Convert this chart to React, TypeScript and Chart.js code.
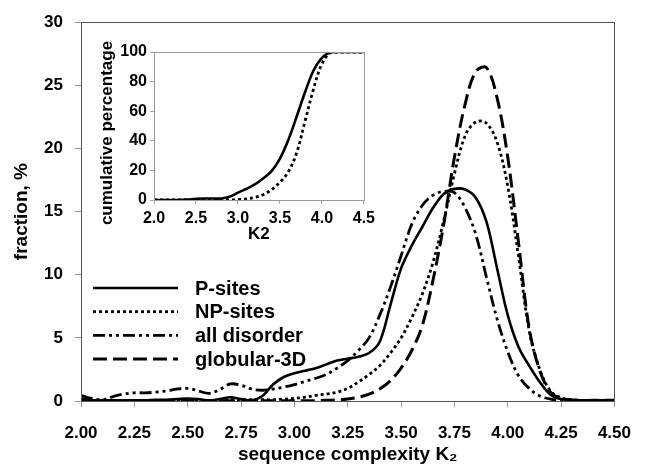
import React, { useEffect, useRef } from 'react';
import { Chart, registerables } from 'chart.js';

Chart.register(...registerables);

const FONT = '"Liberation Sans", Arial, sans-serif';

// ---------- main chart data ----------
const K2 = [
  2.0, 2.05, 2.1, 2.15, 2.2, 2.25, 2.3, 2.35, 2.4, 2.45,
  2.5, 2.55, 2.6, 2.65, 2.7, 2.75, 2.8, 2.85, 2.9, 2.95,
  3.0, 3.05, 3.1, 3.15, 3.2, 3.25, 3.3, 3.35, 3.4, 3.45,
  3.5, 3.55, 3.6, 3.65, 3.7, 3.75, 3.8, 3.85, 3.9, 3.95,
  4.0, 4.05, 4.1, 4.15, 4.2, 4.25, 4.3, 4.35, 4.4, 4.45, 4.5,
];

const P_SITES = [
  0.1, 0.05, 0.05, 0.05, 0.05, 0.05, 0.05, 0.1, 0.1, 0.15,
  0.2, 0.15, 0.05, 0.15, 0.3, 0.15, 0.05, 0.4, 1.3, 1.9,
  2.2, 2.4, 2.6, 2.9, 3.2, 3.35, 3.5, 3.8, 4.7, 7.6,
  10.5, 12.3, 13.8, 15.3, 16.4, 16.8, 16.75, 16.1, 14.2, 10.5,
  6.8, 4.3, 2.8, 1.5, 0.5, 0.15, 0.08, 0.05, 0.05, 0.05, 0.05,
];

const NP_SITES = [
  0.1, 0.05, 0.05, 0.05, 0.05, 0.05, 0.05, 0.05, 0.05, 0.05,
  0.05, 0.05, 0.05, 0.05, 0.1, 0.1, 0.1, 0.1, 0.1, 0.15,
  0.2, 0.3, 0.45, 0.55, 0.7, 1.0, 1.5, 2.1, 2.8, 3.8,
  5.0, 6.6, 8.5, 11.0, 14.3, 18.0, 21.0, 22.1, 22.0, 20.5,
  17.0, 11.5, 5.6, 2.5, 0.8, 0.25, 0.1, 0.05, 0.05, 0.05, 0.05,
];

const ALL_DISORDER = [
  0.45, 0.2, 0.1, 0.35, 0.55, 0.65, 0.65, 0.7, 0.8, 0.95,
  1.0, 0.8, 0.6, 0.9, 1.35, 1.25, 0.95, 0.85, 0.95, 1.1,
  1.3, 1.55, 1.8, 2.1, 2.6, 3.2, 4.0, 5.0, 6.8, 9.0,
  11.5, 14.0, 15.5, 16.3, 16.6, 16.5, 15.3, 13.2, 9.8, 6.5,
  3.9, 2.0, 1.0, 0.4, 0.15, 0.05, 0.05, 0.05, 0.05, 0.05, 0.05,
];

const GLOBULAR_3D = [
  0.2, 0.05, 0.02, 0.02, 0.02, 0.02, 0.02, 0.02, 0.02, 0.02,
  0.02, 0.02, 0.02, 0.02, 0.02, 0.02, 0.02, 0.02, 0.02, 0.02,
  0.02, 0.02, 0.02, 0.05, 0.08, 0.15, 0.3, 0.55, 0.95, 1.6,
  2.6, 4.0, 6.0, 9.6, 14.0, 19.3, 23.5, 26.1, 26.4, 24.0,
  19.3, 12.6, 5.8, 2.4, 0.7, 0.2, 0.08, 0.05, 0.05, 0.05, 0.05,
];

const SERIES_LABELS = ['P-sites', 'NP-sites', 'all disorder', 'globular-3D'];
const X_TICKS = [2.0, 2.25, 2.5, 2.75, 3.0, 3.25, 3.5, 3.75, 4.0, 4.25, 4.5];
const Y_TICKS = [0, 5, 10, 15, 20, 25, 30];

// ---------- inset data ----------
const CUM_K2 = [
  2.0, 2.1, 2.2, 2.3, 2.4, 2.5, 2.6, 2.7, 2.8, 2.9,
  3.0, 3.1, 3.2, 3.3, 3.4, 3.5, 3.6, 3.7, 3.8, 3.9,
  4.0, 4.1, 4.2, 4.3, 4.4, 4.5,
];
const CUM_P = [
  0, 0, 0, 0, 0.3, 0.8, 1, 1, 1, 2.2,
  5, 7.5, 10.5, 14.5, 19.5, 28, 40.5, 56.5, 73, 87.5,
  96, 99.8, 100, 100, 100, 100,
];
const CUM_NP = [
  0, 0, 0, 0, 0, 0, 0, 0, 0, 0,
  0.3, 0.8, 1.8, 3.5, 7, 12, 19, 32, 53.5, 75,
  92, 99.5, 100, 100, 100, 100,
];
const INSET_X_TICKS = [2.0, 2.5, 3.0, 3.5, 4.0, 4.5];
const INSET_Y_TICKS = [0, 20, 40, 60, 80, 100];

const SOLID: number[] = [];
const DOTTED = [3, 3];
const DASH_DOT_DOT = [12, 4, 3, 4, 3, 4];
const DASHED = [14, 6];

const toPoints = (xs: number[], ys: number[]) => xs.map((x, i) => ({ x, y: ys[i] }));

const framePlugin = (color: string) => ({
  id: 'frame',
  afterDatasetsDraw(chart: any) {
    const { ctx, chartArea } = chart;
    ctx.save();
    ctx.strokeStyle = color;
    ctx.lineWidth = 1;
    ctx.setLineDash([]);
    ctx.strokeRect(
      Math.round(chartArea.left) + 0.5,
      Math.round(chartArea.top) + 0.5,
      Math.round(chartArea.right - chartArea.left),
      Math.round(chartArea.bottom - chartArea.top)
    );
    ctx.restore();
  },
});

const legendPlugin = {
  id: 'insideLegend',
  afterDraw(chart: any) {
    const { ctx } = chart;
    chart.data.datasets.forEach((ds: any, i: number) => {
      const y = 288 + i * 23.7;
      ctx.save();
      ctx.strokeStyle = '#000';
      ctx.lineWidth = ds.borderWidth;
      ctx.setLineDash(ds.borderDash || []);
      ctx.beginPath();
      ctx.moveTo(93, y);
      ctx.lineTo(178, y);
      ctx.stroke();
      ctx.setLineDash([]);
      ctx.fillStyle = '#000';
      ctx.font = `bold 20px ${FONT}`;
      ctx.textBaseline = 'middle';
      ctx.textAlign = 'left';
      ctx.fillText(ds.label, 195, y + 1);
      ctx.restore();
    });
  },
};

const insetYTitlePlugin = {
  id: 'insetYTitle',
  afterDraw(chart: any) {
    const { ctx } = chart;
    ctx.save();
    ctx.translate(47, 103);
    ctx.rotate(-Math.PI / 2);
    ctx.fillStyle = '#000';
    ctx.font = `bold 17px ${FONT}`;
    ctx.textAlign = 'center';
    ctx.textBaseline = 'middle';
    ctx.fillText('cumulative percentage', 0, 0);
    ctx.restore();
  },
};

export default function App() {
  const mainRef = useRef<HTMLCanvasElement>(null);
  const insetRef = useRef<HTMLCanvasElement>(null);

  useEffect(() => {
    Chart.defaults.font.family = FONT;
    Chart.defaults.color = '#000';

    const styles = [
      { dash: SOLID, width: 2.6 },
      { dash: DOTTED, width: 2.8 },
      { dash: DASH_DOT_DOT, width: 2.8 },
      { dash: DASHED, width: 3 },
    ];
    const series = [P_SITES, NP_SITES, ALL_DISORDER, GLOBULAR_3D];

    const main = new Chart(mainRef.current!, {
      type: 'line',
      data: {
        datasets: series.map((ys, i) => ({
          label: SERIES_LABELS[i],
          data: toPoints(K2, ys),
          borderColor: '#000',
          borderWidth: styles[i].width,
          borderDash: styles[i].dash,
          pointRadius: 0,
          tension: 0.35,
          fill: false,
        })),
      },
      options: {
        animation: false,
        responsive: false,
        layout: { padding: { top: 19, right: 16, bottom: 0, left: 0 } },
        plugins: { legend: { display: false }, tooltip: { enabled: false } },
        scales: {
          x: {
            type: 'linear',
            min: 2,
            max: 4.5,
            afterBuildTicks: (s: any) => { s.ticks = X_TICKS.map((v) => ({ value: v })); },
            afterFit: (s: any) => { s.height = 67; },
            ticks: {
              callback: (v: any) => Number(v).toFixed(2),
              font: { size: 17, weight: 'bold' },
              padding: 16,
              maxRotation: 0,
              autoSkip: false,
            },
            grid: { display: true, drawOnChartArea: false, drawTicks: true, tickLength: 6, color: '#999' },
            border: { display: false },
            title: {
              display: true,
              text: 'sequence complexity K\u2082',
              font: { size: 19, weight: 'bold' },
              padding: { top: 0, bottom: 2 },
            },
          },
          y: {
            type: 'linear',
            min: 0,
            max: 30,
            afterBuildTicks: (s: any) => { s.ticks = Y_TICKS.map((v) => ({ value: v })); },
            afterFit: (s: any) => { s.width = 81; },
            ticks: {
              font: { size: 17, weight: 'bold' },
              padding: 12,
            },
            grid: { display: true, drawOnChartArea: false, drawTicks: true, tickLength: 6, color: '#999' },
            border: { display: false },
            title: {
              display: true,
              text: 'fraction, %',
              font: { size: 19, weight: 'bold' },
              padding: { top: 10, bottom: 0 },
            },
          },
        },
      } as any,
      plugins: [framePlugin('#555'), legendPlugin],
    });

    const inset = new Chart(insetRef.current!, {
      type: 'line',
      data: {
        datasets: [
          {
            label: 'P-sites',
            data: toPoints(CUM_K2, CUM_P),
            borderColor: '#000',
            borderWidth: 2.6,
            borderDash: SOLID,
            pointRadius: 0,
            tension: 0.35,
          },
          {
            label: 'NP-sites',
            data: toPoints(CUM_K2, CUM_NP),
            borderColor: '#000',
            borderWidth: 2.8,
            borderDash: DOTTED,
            pointRadius: 0,
            tension: 0.35,
          },
        ],
      },
      options: {
        animation: false,
        responsive: false,
        layout: { padding: { top: 22, right: 12, bottom: 0, left: 0 } },
        plugins: { legend: { display: false }, tooltip: { enabled: false } },
        scales: {
          x: {
            type: 'linear',
            min: 2,
            max: 4.5,
            afterBuildTicks: (s: any) => { s.ticks = INSET_X_TICKS.map((v) => ({ value: v })); },
            afterFit: (s: any) => { s.height = 50; },
            ticks: {
              callback: (v: any) => Number(v).toFixed(1),
              font: { size: 16, weight: 'bold' },
              padding: 5,
              maxRotation: 0,
              autoSkip: false,
            },
            grid: { display: true, drawOnChartArea: false, drawTicks: true, tickLength: 4, color: '#aaa' },
            border: { display: false },
            title: {
              display: true,
              text: 'K2',
              font: { size: 17, weight: 'bold' },
              padding: { top: 0, bottom: 5 },
            },
          },
          y: {
            type: 'linear',
            min: 0,
            max: 100,
            afterBuildTicks: (s: any) => { s.ticks = INSET_Y_TICKS.map((v) => ({ value: v })); },
            afterFit: (s: any) => { s.width = 94; },
            ticks: {
              font: { size: 16, weight: 'bold' },
              padding: 3,
            },
            grid: { display: true, drawOnChartArea: false, drawTicks: true, tickLength: 4, color: '#aaa' },
            border: { display: false },
            title: { display: false },
          },
        },
      } as any,
      plugins: [framePlugin('#999'), insetYTitlePlugin],
    });

    return () => {
      main.destroy();
      inset.destroy();
    };
  }, []);

  return (
    <div style={{ position: 'fixed', left: 0, top: 0, width: 647, height: 468, background: '#fff' }}>
      <canvas
        ref={mainRef}
        width={647}
        height={468}
        style={{ position: 'absolute', left: 0, top: 0, width: 647, height: 468 }}
      />
      <canvas
        ref={insetRef}
        width={320}
        height={220}
        style={{ position: 'absolute', left: 60, top: 30, width: 320, height: 220 }}
      />
    </div>
  );
}
